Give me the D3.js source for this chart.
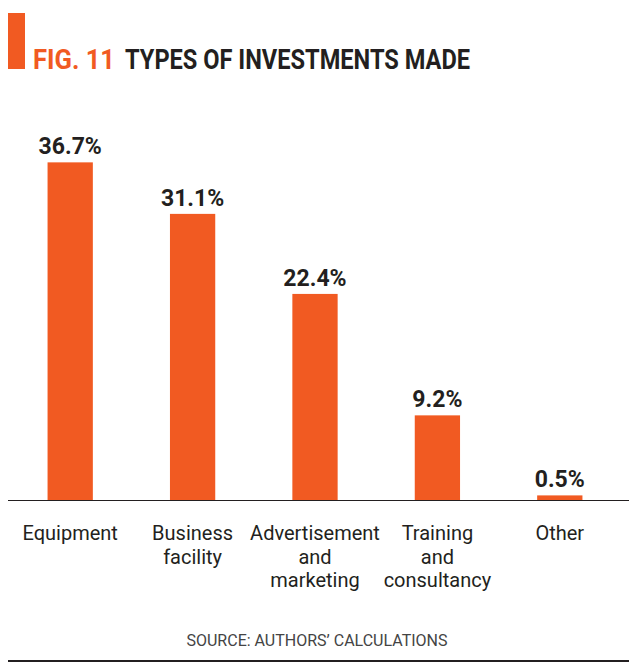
<!DOCTYPE html>
<html>
<head>
<meta charset="UTF-8">
<title>Fig. 11 Types of investments made</title>
<script src="https://cdn.jsdelivr.net/npm/d3@7"></script>
<style>
  body { margin: 0; background: #fff; }
  svg { display: block; font-family: Roboto, "Liberation Sans", sans-serif; }
</style>
</head>
<body>
<div id="chart"></div>
<script>
// data
var categories = [["Equipment"], ["Business", "facility"], ["Advertisement", "and", "marketing"], ["Training", "and", "consultancy"], ["Other"]];
var values = [36.7, 31.1, 22.4, 9.2, 0.5];
var valueLabels = ["36.7%", "31.1%", "22.4%", "9.2%", "0.5%"];

var width = 629, height = 662;
var orange = "#f15a22", ink = "#231f20";
var baseY = 500;

var svg = d3.select("#chart").append("svg")
    .attr("width", width).attr("height", height);

// title block
svg.append("rect").attr("x", 8).attr("y", 13).attr("width", 17).attr("height", 56).attr("fill", orange);
svg.append("text")
    .attr("x", 33).attr("y", 69)
    .attr("font-size", 28).attr("font-weight", 700)
    .attr("textLength", 82).attr("lengthAdjust", "spacingAndGlyphs")
    .attr("fill", orange)
    .text("FIG. 11");
svg.append("text")
    .attr("x", 125).attr("y", 69)
    .attr("font-size", 28).attr("font-weight", 700)
    .attr("textLength", 345).attr("lengthAdjust", "spacingAndGlyphs")
    .attr("fill", ink)
    .text("TYPES OF INVESTMENTS MADE");

var idx = d3.range(values.length);

var x = d3.scaleBand()
    .domain(idx)
    .range([9, 621])
    .paddingInner(0.63)
    .paddingOuter(0.315);

var y = d3.scaleLinear()
    .domain([0, 40])
    .range([baseY, baseY - 368]);

svg.selectAll(".bar")
    .data(idx)
    .enter().append("rect")
    .attr("class", "bar")
    .attr("x", function(i) { return x(i); })
    .attr("y", function(i) { return y(values[i]); })
    .attr("width", x.bandwidth())
    .attr("height", function(i) { return baseY - y(values[i]); })
    .attr("fill", orange);

svg.selectAll(".val")
    .data(idx)
    .enter().append("text")
    .attr("class", "val")
    .attr("x", function(i) { return x(i) + x.bandwidth() / 2; })
    .attr("y", function(i) { return y(values[i]) - 8; })
    .attr("text-anchor", "middle")
    .attr("font-size", 23).attr("font-weight", 700)
    .attr("fill", ink)
    .text(function(i) { return valueLabels[i]; });

// baseline
svg.append("line")
    .attr("x1", 8).attr("x2", width)
    .attr("y1", baseY + 0.5).attr("y2", baseY + 0.5)
    .attr("stroke", ink).attr("stroke-width", 1.2);

// category labels
var cat = svg.selectAll(".cat")
    .data(idx)
    .enter().append("text")
    .attr("class", "cat")
    .attr("text-anchor", "middle")
    .attr("font-size", 20)
    .attr("fill", ink);
cat.selectAll("tspan")
    .data(function(i) { return categories[i].map(function(t) { return { t: t, i: i }; }); })
    .enter().append("tspan")
    .attr("x", function(d) { return x(d.i) + x.bandwidth() / 2; })
    .attr("y", function(d, j) { return 540 + j * 23.5; })
    .text(function(d) { return d.t; });

// source
svg.append("text")
    .attr("x", 317).attr("y", 646)
    .attr("text-anchor", "middle")
    .attr("font-size", 16)
    .attr("fill", "#444")
    .text("SOURCE: AUTHORS\u2019 CALCULATIONS");

svg.append("line")
    .attr("x1", 8).attr("x2", width)
    .attr("y1", 661).attr("y2", 661)
    .attr("stroke", ink).attr("stroke-width", 2);
</script>
</body>
</html>
